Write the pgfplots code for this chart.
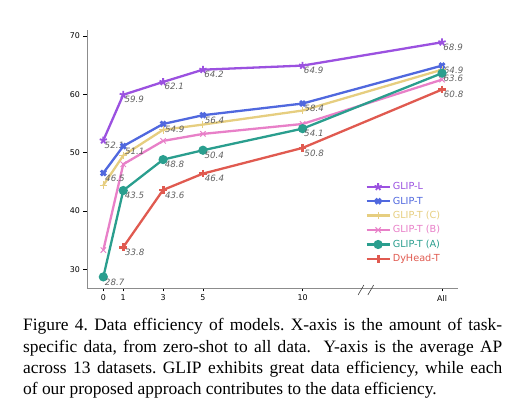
\documentclass[border=0pt]{standalone}
\usepackage{fontspec}
\setmainfont{Liberation Serif}
\setsansfont{DejaVu Sans}
\usepackage{pgfplots}
\pgfplotsset{compat=1.18}
\definecolor{cL}{RGB}{155,81,224}
\definecolor{cT}{RGB}{80,104,222}
\definecolor{cC}{RGB}{230,206,128}
\definecolor{cB}{RGB}{232,128,200}
\definecolor{cA}{RGB}{42,158,142}
\definecolor{cD}{RGB}{224,90,80}
\definecolor{lbl}{RGB}{96,96,96}
\begin{document}
\begin{tikzpicture}
\useasboundingbox (-87pt,-127pt) rectangle (436pt,288pt);
\begin{axis}[
  at={(0pt,0pt)}, anchor=south west, scale only axis,
  width=371pt, height=258pt,
  xmin=-0.82, xmax=17.8, ymin=26.8, ymax=71,
  clip=false,
  axis x line*=bottom, axis y line*=left,
  axis line style={black!45, line width=0.8pt},
  xtick={0,1,3,5,10,17}, xticklabels={0,1,3,5,10,All},
  ytick={30,40,50,60,70},
  tick align=outside, major tick length=3.5pt,
  tick style={black, line width=0.6pt},
  ticklabel style={font=\sffamily\fontsize{7.9}{9}\selectfont},
  /pgf/number format/assume math mode=true,
  every axis plot/.append style={line width=2.3pt},
  point meta=explicit symbolic,
  every node near coord/.append style={anchor=north west, inner sep=0.5pt, text=lbl,
     font=\sffamily\itshape\fontsize{8.7}{10}\selectfont},
  legend cell align=left,
  legend style={draw=none, fill=none, at={(0.742,0.425)}, anchor=north west,
     font=\sffamily\fontsize{9.7}{11}\selectfont, row sep=1.6pt,
     /tikz/every even column/.append style={column sep=3pt}},
  legend image code/.code={\draw[mark repeat=2,mark phase=2] plot coordinates {(0pt,0pt) (11.5pt,0pt) (23pt,0pt)};},
]
\addplot[color=cL, mark=star, mark size=3.8pt, mark options={line width=1.8pt}, nodes near coords]
  coordinates {(0,52.1) [52.1] (1,59.9) [59.9] (3,62.1) [62.1] (5,64.2) [64.2] (10,64.9) [64.9] (17,68.9) [68.9]};
\addlegendentry{\textcolor{cL}{GLIP-L}}
\addplot[color=cT, mark=x, mark size=3.5pt, mark options={line width=2.8pt}, nodes near coords]
  coordinates {(0,46.5) [46.5] (1,51.1) [51.1] (3,54.9) [54.9] (5,56.4) [56.4] (10,58.4) [58.4] (17,64.9) [64.9]};
\addlegendentry{\textcolor{cT}{GLIP-T}}
\addplot[color=cC, mark=+, mark size=3.8pt, mark options={line width=1pt}]
  coordinates {(0,44.4) (1,49.5) (3,53.9) (5,54.8) (10,57.2) (17,64.2)};
\addlegendentry{\textcolor{cC}{GLIP-T (C)}}
\addplot[color=cB, mark=x, mark size=3.8pt, mark options={line width=1pt}]
  coordinates {(0,33.3) (1,48.0) (3,52.0) (5,53.2) (10,54.9) (17,62.5)};
\addlegendentry{\textcolor{cB}{GLIP-T (B)}}
\addplot[color=cA, mark=*, mark size=3.4pt, nodes near coords]
  coordinates {(0,28.7) [28.7] (1,43.5) [43.5] (3,48.8) [48.8] (5,50.4) [50.4] (10,54.1) [54.1] (17,63.6) [63.6]};
\addlegendentry{\textcolor{cA}{GLIP-T (A)}}
\addplot[color=cD, mark=+, mark size=3.8pt, mark options={line width=2.8pt}, nodes near coords]
  coordinates {(1,33.8) [33.8] (3,43.6) [43.6] (5,46.4) [46.4] (10,50.8) [50.8] (17,60.8) [60.8]};
\addlegendentry{\textcolor{cD}{DyHead-T}}
\draw[black!75, line width=0.6pt] ([xshift=-2.9pt,yshift=-7pt]axis cs:12.93,26.8) -- ++(5.8pt,10pt);
\draw[black!75, line width=0.6pt] ([xshift=-2.9pt,yshift=-7pt]axis cs:13.42,26.8) -- ++(5.8pt,10pt);
\end{axis}
\node[anchor=base west, inner sep=0pt] at (-64pt,-43pt) {\parbox[t]{479pt}{\fontsize{17.4}{21.3}\selectfont\frenchspacing
Figure 4. Data efficiency of models. X-axis is the amount of task-\linebreak
specific data, from zero-shot to all data.\ \ Y-axis is the average AP\linebreak
across 13 datasets. GLIP exhibits great data efficiency, while each\linebreak
of our proposed approach contributes to the data efficiency.}};
\end{tikzpicture}
\end{document}
